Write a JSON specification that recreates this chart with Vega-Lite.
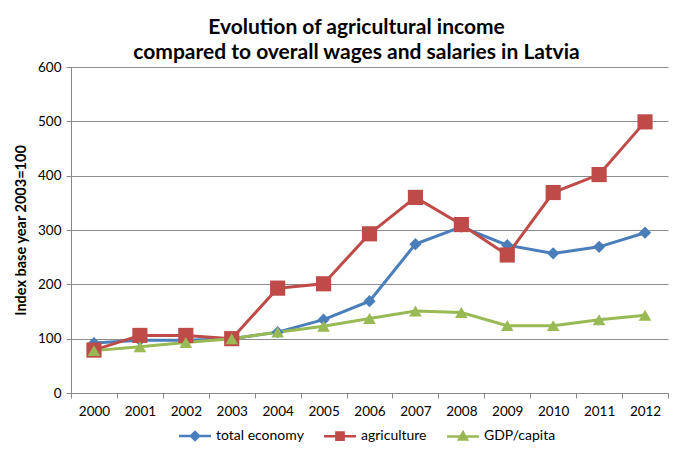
{
  "$schema": "https://vega.github.io/schema/vega-lite/v6.json",
  "width": 597,
  "height": 326,
  "autosize": {"type": "none"},
  "padding": {"left": 71, "top": 67, "right": 16, "bottom": 61},
  "background": "white",
  "title": {
    "text": ["Evolution of agricultural income", "compared to overall wages and salaries in Latvia"],
    "font": "Lato",
    "fontSize": 21,
    "fontWeight": "bold",
    "lineHeight": 25,
    "anchor": "middle",
    "dx": -13,
    "offset": -3,
    "color": "#000000"
  },
  "data": {
    "values": [
      {"year": "2000", "series": "total economy", "value": 92},
      {"year": "2001", "series": "total economy", "value": 97},
      {"year": "2002", "series": "total economy", "value": 97},
      {"year": "2003", "series": "total economy", "value": 100},
      {"year": "2004", "series": "total economy", "value": 112},
      {"year": "2005", "series": "total economy", "value": 135},
      {"year": "2006", "series": "total economy", "value": 169},
      {"year": "2007", "series": "total economy", "value": 274},
      {"year": "2008", "series": "total economy", "value": 306},
      {"year": "2009", "series": "total economy", "value": 272},
      {"year": "2010", "series": "total economy", "value": 257},
      {"year": "2011", "series": "total economy", "value": 269},
      {"year": "2012", "series": "total economy", "value": 295},
      {"year": "2000", "series": "agriculture", "value": 79},
      {"year": "2001", "series": "agriculture", "value": 106},
      {"year": "2002", "series": "agriculture", "value": 106},
      {"year": "2003", "series": "agriculture", "value": 100},
      {"year": "2004", "series": "agriculture", "value": 193},
      {"year": "2005", "series": "agriculture", "value": 201},
      {"year": "2006", "series": "agriculture", "value": 293},
      {"year": "2007", "series": "agriculture", "value": 360},
      {"year": "2008", "series": "agriculture", "value": 310},
      {"year": "2009", "series": "agriculture", "value": 254},
      {"year": "2010", "series": "agriculture", "value": 369},
      {"year": "2011", "series": "agriculture", "value": 402},
      {"year": "2012", "series": "agriculture", "value": 499},
      {"year": "2000", "series": "GDP/capita", "value": 78},
      {"year": "2001", "series": "GDP/capita", "value": 85},
      {"year": "2002", "series": "GDP/capita", "value": 93},
      {"year": "2003", "series": "GDP/capita", "value": 100},
      {"year": "2004", "series": "GDP/capita", "value": 112},
      {"year": "2005", "series": "GDP/capita", "value": 123},
      {"year": "2006", "series": "GDP/capita", "value": 137},
      {"year": "2007", "series": "GDP/capita", "value": 151},
      {"year": "2008", "series": "GDP/capita", "value": 148},
      {"year": "2009", "series": "GDP/capita", "value": 124},
      {"year": "2010", "series": "GDP/capita", "value": 124},
      {"year": "2011", "series": "GDP/capita", "value": 135},
      {"year": "2012", "series": "GDP/capita", "value": 143}
    ]
  },
  "encoding": {
    "x": {
      "field": "year",
      "type": "ordinal",
      "scale": {"type": "band", "paddingInner": 0, "paddingOuter": 0},
      "axis": {
        "title": null,
        "labelAngle": 0,
        "labelFont": "Lato",
        "labelFontSize": 13.5,
        "labelColor": "#000000",
        "labelPadding": 6,
        "tickBand": "extent",
        "tickSize": 5,
        "tickColor": "#888888",
        "domainColor": "#888888",
        "grid": false
      }
    },
    "y": {
      "field": "value",
      "type": "quantitative",
      "scale": {"domain": [0, 600], "nice": false},
      "axis": {
        "title": "Index base year 2003=100",
        "titleFont": "Lato",
        "titleFontSize": 14.5,
        "titleFontWeight": "bold",
        "titleColor": "#000000",
        "titlePadding": 9,
        "values": [0, 100, 200, 300, 400, 500, 600],
        "labelFont": "Lato",
        "labelFontSize": 13.5,
        "labelColor": "#000000",
        "labelPadding": 5,
        "tickSize": 5,
        "tickColor": "#888888",
        "domainColor": "#888888",
        "grid": true,
        "gridColor": "#8c8c8c",
        "gridWidth": 1
      }
    },
    "color": {
      "field": "series",
      "type": "nominal",
      "sort": ["total economy", "agriculture", "GDP/capita"],
      "scale": {
        "domain": ["total economy", "agriculture", "GDP/capita"],
        "range": ["#4a7ebb", "#be4b48", "#98b954"]
      },
      "legend": {
        "title": null,
        "orient": "none",
        "legendX": 105,
        "legendY": 362,
        "direction": "horizontal",
        "labelFont": "Lato",
        "labelFontSize": 14,
        "labelColor": "#000000",
        "symbolSize": 64,
        "symbolStrokeWidth": 2.5,
        "symbolOffset": 12,
        "labelOffset": 14,
        "columnPadding": 15,
        "encode": {
          "symbols": {
            "update": {
              "shape": {"signal": "datum.value === 'total economy' ? 'M-4,0H4M0,-1L1,0L0,1L-1,0Z' : datum.value === 'agriculture' ? 'M-4,0H4M-0.9,-0.9H0.9V0.9H-0.9Z' : 'M-4,0H4M0,-1L1,0.8H-1Z'"},
              "fill": {"signal": "scale('color', datum.value)"},
              "stroke": {"signal": "scale('color', datum.value)"},
              "fillOpacity": {"value": 1},
              "strokeWidth": {"value": 2.5}
            }
          }
        }
      }
    }
  },
  "layer": [
    {
      "mark": {"type": "line", "strokeWidth": 3}
    },
    {
      "transform": [{"filter": "datum.series === 'total economy'"}],
      "mark": {"type": "point", "filled": true, "opacity": 1, "shape": "diamond", "size": 150}
    },
    {
      "transform": [{"filter": "datum.series === 'agriculture'"}],
      "mark": {"type": "point", "filled": true, "opacity": 1, "shape": "square", "size": 230}
    },
    {
      "transform": [{"filter": "datum.series === 'GDP/capita'"}],
      "mark": {"type": "point", "filled": true, "opacity": 1, "shape": "triangle-up", "size": 160}
    }
  ],
  "config": {
    "view": {"stroke": null}
  }
}
